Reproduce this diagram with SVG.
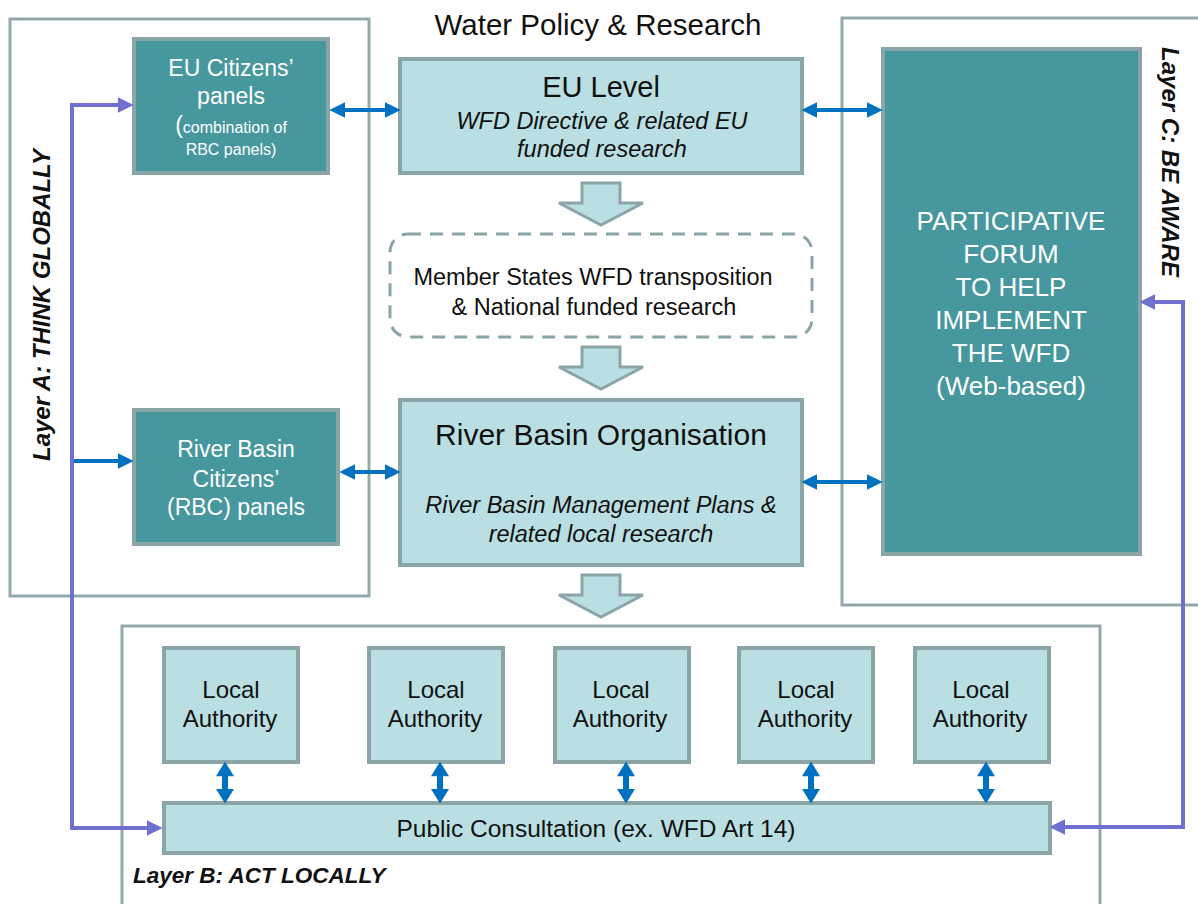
<svg xmlns="http://www.w3.org/2000/svg" width="1198" height="904" viewBox="0 0 1198 904">
<style>
text{font-family:"Liberation Sans",Arial,sans-serif;}
.layer{fill:none;stroke:#93aaac;stroke-width:3;}
.dark{fill:#47979e;stroke:#8aa5a8;stroke-width:4;}
.light{fill:#b9dfe2;stroke:#8aa5a8;stroke-width:4;}
.dash{fill:#ffffff;stroke:#8aa5a8;stroke-width:3;stroke-dasharray:13 9;}
.blk{fill:#b9dfe2;stroke:#8aa5a8;stroke-width:3;}
.wt{fill:#ffffff;text-anchor:middle;}
.bk{fill:#111111;text-anchor:middle;}
.it{font-style:italic;}
.lbl{fill:#111111;font-weight:bold;font-style:italic;}
.blue{fill:none;stroke:#0070c0;stroke-width:4;}
.vblue{fill:none;stroke:#0070c0;stroke-width:6;}
.purple{fill:none;stroke:#7070d0;stroke-width:4;}
</style>
<defs>
<marker id="hb" markerUnits="userSpaceOnUse" markerWidth="16" markerHeight="16" viewBox="0 0 14 14" refX="2" refY="7" orient="auto-start-reverse"><path d="M0,0 L14,7 L0,14 z" fill="#0070c0"/></marker>
<marker id="hv" markerUnits="userSpaceOnUse" markerWidth="16" markerHeight="18" viewBox="0 0 13 16" refX="1" refY="8" orient="auto-start-reverse"><path d="M0,0 L13,8 L0,16 z" fill="#0070c0"/></marker>
<marker id="hp" markerUnits="userSpaceOnUse" markerWidth="16" markerHeight="16" viewBox="0 0 14 14" refX="2" refY="7" orient="auto-start-reverse"><path d="M0,0 L14,7 L0,14 z" fill="#7070d0"/></marker>
<path id="blockArrow" d="M582,0 H620 V20 H643 L601,42 L559,20 H582 Z"/>
</defs>

<g id="layers">
<rect id="layerA" class="layer" x="10" y="19" width="359" height="577"/>
<path id="layerC" class="layer" d="M1202,18 H842 V605 H1202"/>
<path id="layerB" class="layer" d="M122,910 V626 H1100 V910"/>
<text class="lbl" font-size="24" text-anchor="middle" transform="translate(50,305) rotate(-90)">Layer A: THINK GLOBALLY</text>
<text class="lbl" font-size="24" text-anchor="middle" transform="translate(1162,162) rotate(90)">Layer C: BE AWARE</text>
<text class="lbl" font-size="22.5" x="133" y="883">Layer B: ACT LOCALLY</text>
</g>

<text id="title" class="bk" font-size="29.5" x="598" y="35">Water Policy &amp; Research</text>

<g id="eu-citizens">
<rect class="dark" x="134" y="39" width="194" height="134"/>
<text class="wt" font-size="23" x="231" y="76">EU Citizens’</text>
<text class="wt" font-size="23" x="231" y="104">panels</text>
<text class="wt" font-size="16" x="231" y="133"><tspan font-size="23">(</tspan>combination of</text>
<text class="wt" font-size="16" x="231" y="155">RBC panels)</text>
</g>

<g id="eu-level">
<rect class="light" x="400" y="59" width="402" height="114"/>
<text class="bk" font-size="29" x="601" y="97">EU Level</text>
<text class="bk it" font-size="23.5" x="602" y="129">WFD Directive &amp; related EU</text>
<text class="bk it" font-size="23.5" x="602" y="157">funded research</text>
</g>

<g id="member-states">
<rect class="dash" x="390" y="234" width="422" height="103" rx="18"/>
<text class="bk" font-size="23.5" x="593" y="285">Member States WFD transposition</text>
<text class="bk" font-size="23.5" x="594" y="315">&amp; National funded research</text>
</g>

<g id="rbc-panels">
<rect class="dark" x="134" y="410" width="204" height="134"/>
<text class="wt" font-size="23" x="236" y="457">River Basin</text>
<text class="wt" font-size="23" x="236" y="487">Citizens’</text>
<text class="wt" font-size="23" x="236" y="515">(RBC) panels</text>
</g>

<g id="rbo">
<rect class="light" x="400" y="400" width="402" height="165"/>
<text class="bk" font-size="30" x="601" y="445">River Basin Organisation</text>
<text class="bk it" font-size="23.5" x="601" y="513">River Basin Management Plans &amp;</text>
<text class="bk it" font-size="23.5" x="601" y="542">related local research</text>
</g>

<g id="forum">
<rect class="dark" x="883" y="49" width="257" height="505"/>
<text class="wt" font-size="26" x="1011" y="230">PARTICIPATIVE</text>
<text class="wt" font-size="26" x="1011" y="263">FORUM</text>
<text class="wt" font-size="26" x="1011" y="296">TO HELP</text>
<text class="wt" font-size="26" x="1011" y="329">IMPLEMENT</text>
<text class="wt" font-size="26" x="1011" y="362">THE WFD</text>
<text class="wt" font-size="26" x="1011" y="395">(Web-based)</text>
</g>

<g id="local-authorities">
<g id="la1"><rect class="light" x="164" y="648" width="134" height="114"/>
<text class="bk" font-size="24" x="231" y="698">Local</text><text class="bk" font-size="24" x="230" y="727">Authority</text></g>
<g id="la2"><rect class="light" x="369" y="648" width="134" height="114"/>
<text class="bk" font-size="24" x="436" y="698">Local</text><text class="bk" font-size="24" x="435" y="727">Authority</text></g>
<g id="la3"><rect class="light" x="555" y="648" width="134" height="114"/>
<text class="bk" font-size="24" x="621" y="698">Local</text><text class="bk" font-size="24" x="620" y="727">Authority</text></g>
<g id="la4"><rect class="light" x="739" y="648" width="134" height="114"/>
<text class="bk" font-size="24" x="806" y="698">Local</text><text class="bk" font-size="24" x="805" y="727">Authority</text></g>
<g id="la5"><rect class="light" x="915" y="648" width="134" height="114"/>
<text class="bk" font-size="24" x="981" y="698">Local</text><text class="bk" font-size="24" x="980" y="727">Authority</text></g>
</g>

<g id="public-consultation">
<rect class="light" x="164" y="803" width="886" height="50"/>
<text class="bk" font-size="24.5" x="596" y="837">Public Consultation (ex. WFD Art 14)</text>
</g>

<g id="connectors">
<use href="#blockArrow" class="blk" transform="translate(0,183)"/>
<use href="#blockArrow" class="blk" transform="translate(0,347)"/>
<use href="#blockArrow" class="blk" transform="translate(0,575)"/>
<path class="blue" d="M343,110 H387" marker-start="url(#hb)" marker-end="url(#hb)"/>
<path class="blue" d="M815,110 H869" marker-start="url(#hb)" marker-end="url(#hb)"/>
<path class="blue" d="M353,472 H387" marker-start="url(#hb)" marker-end="url(#hb)"/>
<path class="blue" d="M815,482 H869" marker-start="url(#hb)" marker-end="url(#hb)"/>
<path class="blue" d="M72,461 H120" marker-end="url(#hb)"/>
<path class="vblue" d="M225,775 V790" marker-start="url(#hv)" marker-end="url(#hv)"/>
<path class="vblue" d="M440,775 V790" marker-start="url(#hv)" marker-end="url(#hv)"/>
<path class="vblue" d="M626,775 V790" marker-start="url(#hv)" marker-end="url(#hv)"/>
<path class="vblue" d="M811,775 V790" marker-start="url(#hv)" marker-end="url(#hv)"/>
<path class="vblue" d="M986,775 V790" marker-start="url(#hv)" marker-end="url(#hv)"/>
<path class="purple" d="M120,105 H72 V828 H149" marker-start="url(#hp)" marker-end="url(#hp)"/>
<path class="purple" d="M1153,302 H1183 V827 H1063" marker-start="url(#hp)" marker-end="url(#hp)"/>
</g>
</svg>
